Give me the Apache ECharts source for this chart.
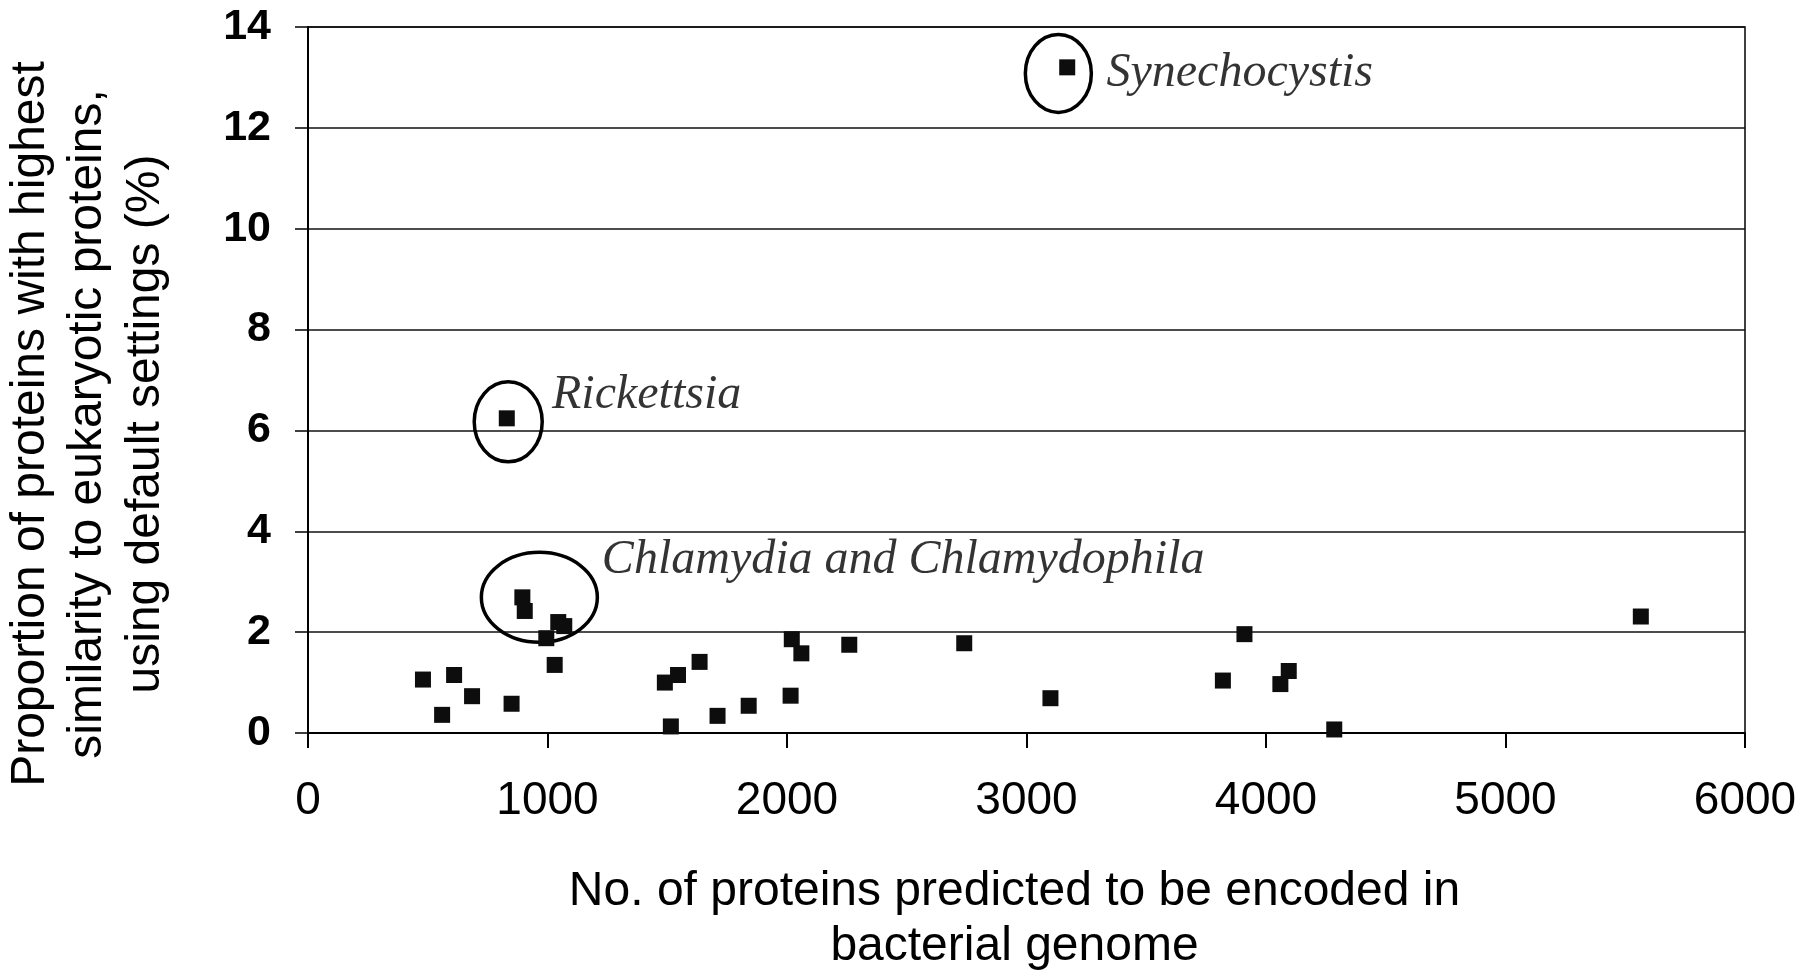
<!DOCTYPE html>
<html>
<head>
<meta charset="utf-8">
<title>Proteins with highest similarity to eukaryotic proteins</title>
<script src="https://cdn.jsdelivr.net/npm/echarts@6/dist/echarts.min.js"></script>
<style>
  html, body { margin: 0; padding: 0; background: #fff; }
  #main { width: 1800px; height: 978px; }
</style>
</head>
<body>
<div id="main"></div>
<script>
// one point per bacterial genome
const proteinCounts = [
  480, 560, 610, 685, 830, 850, 895, 905, 995, 1030, 1045, 1070,
  1490, 1515, 1545, 1635, 1710, 1840, 2015, 2020, 2060, 2260,
  2740, 3100, 3170, 3820, 3910, 4060, 4095, 4285, 5565
];
const eukaryoticPercent = [
  1.06, 0.36, 1.15, 0.73, 6.24, 0.58, 2.69, 2.42, 1.88, 1.35, 2.20, 2.12,
  1.00, 0.13, 1.15, 1.41, 0.34, 0.54, 0.74, 1.86, 1.58, 1.75,
  1.78, 0.69, 13.2, 1.04, 1.96, 0.97, 1.23, 0.07, 2.31
];

// annotation text, anchored in data units
const noteNames = ["Synechocystis", "Rickettsia", "Chlamydia and Chlamydophila"];
const noteX = [3334, 1019, 1227];
const noteY = [13.09, 6.69, 3.42];

// ellipses drawn round the highlighted genomes
const ringX = [3133, 836, 966];
const ringY = [13.08, 6.17, 2.69];
const ringRadii = [[33, 39], [34, 40], [58, 45]];

const xMin = 0, xMax = 6000, xStep = 1000;
const yMin = 0, yMax = 14, yStep = 2;

const xTitle = "No. of proteins predicted to be encoded in\nbacterial genome";
const yTitle = [
  "Proportion of proteins with highest",
  "similarity to eukaryotic proteins,",
  "using default settings (%)"
];

const sans = '"Liberation Sans", Arial, sans-serif';
const serif = '"Liberation Serif", "Times New Roman", serif';

const chart = echarts.init(document.getElementById("main"));

chart.setOption({
  animation: false,
  backgroundColor: "#fff",
  grid: {
    left: 308, right: 55, top: 27, bottom: 245,
    show: true, borderColor: "#000", borderWidth: 1.5,
    outerBoundsMode: "none"
  },
  xAxis: {
    type: "value",
    min: xMin, max: xMax, interval: xStep,
    name: xTitle,
    nameLocation: "middle",
    nameGap: 131,
    nameTextStyle: {
      fontFamily: sans, fontSize: 48, color: "#000", lineHeight: 55,
      padding: [0, 24, 0, 0]
    },
    axisLine: { show: true, lineStyle: { color: "#000", width: 2 } },
    axisTick: { show: true, length: 15, lineStyle: { color: "#000", width: 2 } },
    axisLabel: {
      fontFamily: sans, fontSize: 46, color: "#000", margin: 45,
      formatter: (v) => String(v)
    },
    splitLine: { show: false }
  },
  yAxis: {
    type: "value",
    min: yMin, max: yMax, interval: yStep,
    axisLine: { show: true, lineStyle: { color: "#000", width: 2 } },
    axisTick: { show: true, length: 13, lineStyle: { color: "#000", width: 1.5 } },
    axisLabel: {
      fontFamily: sans, fontSize: 43, fontWeight: "bold", color: "#000", margin: 37,
      formatter: (v) => String(v)
    },
    splitLine: { show: true, lineStyle: { color: "#111", width: 1.5 } }
  },
  graphic: [{
    type: "text",
    x: 88, y: 424,
    rotation: Math.PI / 2,
    style: {
      text: yTitle.join("\n"),
      fontFamily: sans, fontSize: 48, lineHeight: 57.5,
      fill: "#000", align: "center", verticalAlign: "middle"
    }
  }],
  series: [
    {
      type: "scatter",
      data: proteinCounts.map((x, i) => [x, eukaryoticPercent[i]]),
      symbol: "rect",
      symbolSize: 16,
      itemStyle: { color: "#0d0d0d", opacity: 1 },
      z: 4
    },
    {
      type: "custom",
      silent: true,
      data: ringX.map((x, i) => [x, ringY[i]]),
      encode: { x: 0, y: 1 },
      renderItem: function (params, api) {
        const c = api.coord([api.value(0), api.value(1)]);
        const r = ringRadii[params.dataIndex];
        return {
          type: "ellipse",
          shape: { cx: c[0], cy: c[1], rx: r[0], ry: r[1] },
          style: { fill: "none", stroke: "#000", lineWidth: 3.5 }
        };
      },
      z: 3
    },
    {
      type: "scatter",
      silent: true,
      data: noteNames.map((n, i) => ({ name: n, value: [noteX[i], noteY[i]] })),
      symbolSize: 0,
      itemStyle: { color: "transparent" },
      label: {
        show: true, position: "right", distance: 0, formatter: "{b}",
        fontFamily: serif, fontStyle: "italic", fontSize: 48, color: "#000"
      },
      z: 5
    }
  ]
});
</script>
</body>
</html>
